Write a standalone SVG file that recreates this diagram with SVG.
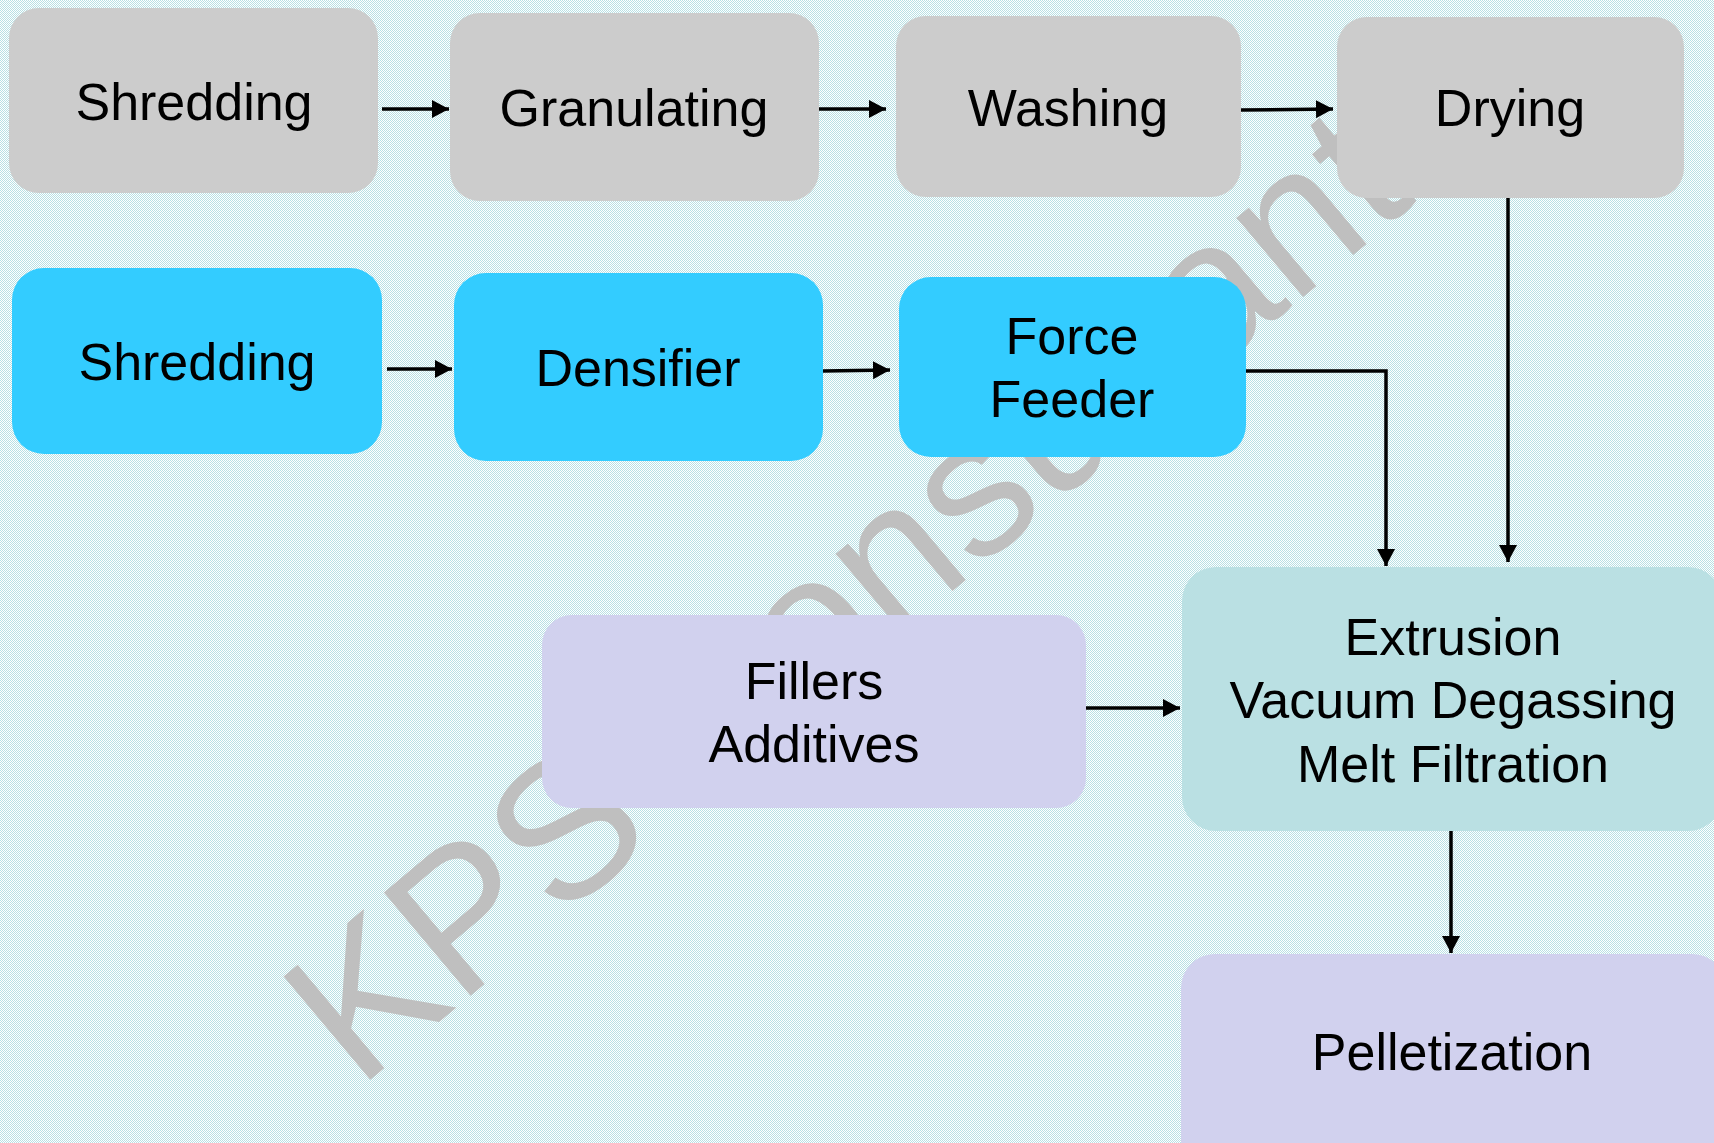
<svg xmlns="http://www.w3.org/2000/svg" width="1714" height="1143" viewBox="0 0 1714 1143">
<defs>
<pattern id="bgp" width="2" height="2" patternUnits="userSpaceOnUse">
<rect width="2" height="2" fill="#ffffff"/>
<rect x="0" y="0" width="1" height="1" fill="#b8e0e4"/>
<rect x="1" y="1" width="1" height="1" fill="#b8e0e4"/>
</pattern>
<marker id="ah" markerUnits="userSpaceOnUse" markerWidth="18" markerHeight="18" refX="17" refY="9" orient="auto">
<path d="M0,0 L17,9 L0,18 z" fill="#000"/>
</marker>
</defs>
<style>
.t{font-family:"Liberation Sans",Arial,sans-serif;font-size:52px;fill:#000;text-anchor:middle}
.gray{fill:#cccccc}
.blue{fill:#33ccff}
.teal{fill:#bae0e3}
.lav{fill:#d1d1ee}
.c{fill:none;stroke:#000;stroke-width:3.5;marker-end:url(#ah)}
.wm{font-family:"Liberation Sans",Arial,sans-serif;font-size:196px;fill:#bfbfbf}
</style>
<rect width="1714" height="1143" fill="url(#bgp)"/>
<text class="wm" transform="translate(358,1090) rotate(-40)">KPS Consultants</text>
<g id="connectors">
<path class="c" d="M382,109 L449,109"/>
<path class="c" d="M819,109 L886,109"/>
<path class="c" d="M1241,110 L1333,109"/>
<path class="c" d="M387,369 L452,369"/>
<path class="c" d="M823,371 L890,370"/>
<path class="c" d="M1246,371 L1386,371 L1386,566"/>
<path class="c" d="M1508,198 L1508,562"/>
<path class="c" d="M1086,708 L1180,708"/>
<path class="c" d="M1451,831 L1451,953"/>
</g>
<g id="n-shredding1"><rect class="gray" x="9" y="8" width="369" height="185" rx="30"/><text class="t" x="194" y="120">Shredding</text></g>
<g id="n-granulating"><rect class="gray" x="450" y="13" width="369" height="188" rx="30"/><text class="t" x="634" y="126">Granulating</text></g>
<g id="n-washing"><rect class="gray" x="896" y="16" width="345" height="181" rx="30"/><text class="t" x="1068" y="126">Washing</text></g>
<g id="n-drying"><rect class="gray" x="1337" y="17" width="347" height="181" rx="30"/><text class="t" x="1510" y="126">Drying</text></g>
<g id="n-shredding2"><rect class="blue" x="12" y="268" width="370" height="186" rx="32"/><text class="t" x="197" y="380">Shredding</text></g>
<g id="n-densifier"><rect class="blue" x="454" y="273" width="369" height="188" rx="32"/><text class="t" x="638" y="386">Densifier</text></g>
<g id="n-forcefeeder"><rect class="blue" x="899" y="277" width="347" height="180" rx="32"/><text class="t" x="1072" y="354">Force</text><text class="t" x="1072" y="417">Feeder</text></g>
<g id="n-fillers"><rect class="lav" x="542" y="615" width="544" height="193" rx="30"/><text class="t" x="814" y="699">Fillers</text><text class="t" x="814" y="762">Additives</text></g>
<g id="n-extrusion"><rect class="teal" x="1182" y="567" width="540" height="264" rx="34"/><text class="t" x="1453" y="655">Extrusion</text><text class="t" x="1453" y="718">Vacuum Degassing</text><text class="t" x="1453" y="782">Melt Filtration</text></g>
<g id="n-pelletization"><rect class="lav" x="1181" y="954" width="545" height="220" rx="34"/><text class="t" x="1452" y="1070">Pelletization</text></g>
</svg>
